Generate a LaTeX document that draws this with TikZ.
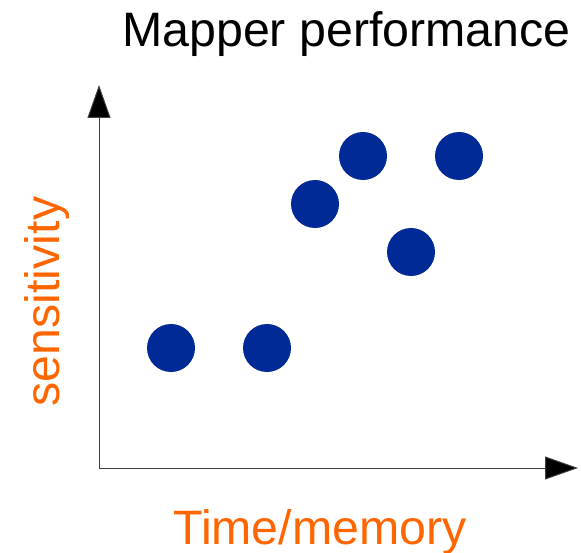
\documentclass[tikz,border=0pt]{standalone}
\usepackage{fontspec}
\setmainfont{Liberation Sans}
\usetikzlibrary{arrows.meta}
\definecolor{dotblue}{HTML}{002A95}
\definecolor{labelorange}{HTML}{FF6600}
\tikzset{
  axis/.style={draw=black!75, line width=1pt, -{Triangle[length=33pt,width=23pt,fill=black]}},
  point/.style={circle, fill=dotblue, minimum size=48pt, inner sep=0pt},
  bigtext/.style={font=\fontsize{48.3}{58}\selectfont, inner sep=0pt, anchor=base},
}
\begin{document}
\begin{tikzpicture}[x=1pt, y=-1pt]
  \useasboundingbox (0,0) rectangle (581,553);
  % axes
  \coordinate (origin) at (99,468);
  \coordinate (ytop) at (99,85);
  \coordinate (xend) at (578,468);
  \draw[axis] (origin) -- (ytop);
  \draw[axis] (origin) -- (xend);
  % data points
  \node[point] (p1) at (171,348) {};
  \node[point] (p2) at (267,348) {};
  \node[point] (p3) at (315,204) {};
  \node[point] (p4) at (363,156) {};
  \node[point] (p5) at (411,252) {};
  \node[point] (p6) at (459,156) {};
  % labels
  \node[bigtext] (title) at (346.5,47) {Mapper performance};
  \node[bigtext, text=labelorange] (xlabel) at (320,544) {Time/memory};
  \node[bigtext, text=labelorange, rotate=90] (ylabel) at (59.5,301.5) {sensitivity};
\end{tikzpicture}
\end{document}
